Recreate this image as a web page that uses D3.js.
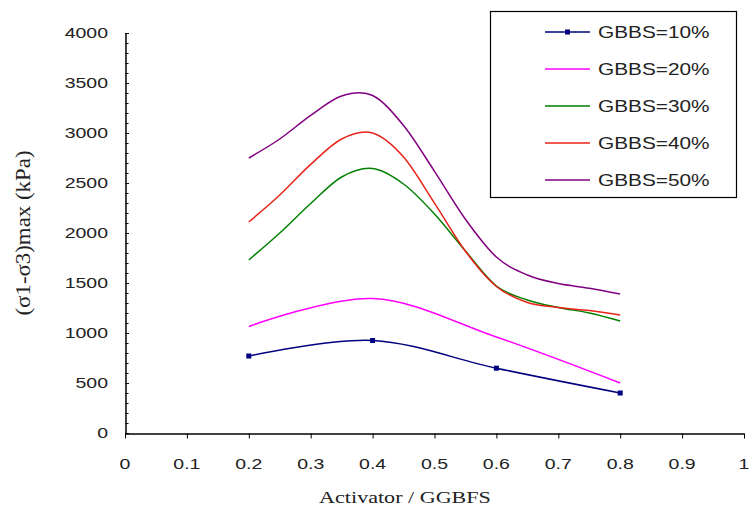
<!DOCTYPE html>
<html>
<head>
<meta charset="utf-8">
<script src="https://cdn.jsdelivr.net/npm/d3@7"></script>
<style>
  body { margin: 0; background: #fff; }
  svg { display: block; }
</style>
</head>
<body>
<div id="chart"></div>
<script>
const WIDTH = 752;
const HEIGHT = 515;
const STRETCH = 1.3; // the source picture is stretched sideways

// series
const seriesNames = ["GBBS=10%", "GBBS=20%", "GBBS=30%", "GBBS=40%", "GBBS=50%"];
const seriesColors = ["#000080", "#ff00ff", "#008000", "#e8231a", "#800080"];

const xCoarse = [0.2, 0.4, 0.6, 0.8];
const xFine = [0.2, 0.25, 0.3, 0.35, 0.4, 0.45, 0.5, 0.55, 0.6, 0.65, 0.7, 0.75, 0.8];

const gbbs10 = [770, 925, 648, 400];
const gbbs20 = [1065, 1345, 960, 500];
const gbbs30 = [1730, 2000, 2295, 2560, 2645, 2490, 2190, 1820, 1470, 1330, 1255, 1200, 1120];
const gbbs40 = [2110, 2380, 2686, 2940, 3000, 2760, 2298, 1817, 1465, 1305, 1255, 1224, 1180];
const gbbs50 = [2750, 2940, 3176, 3370, 3375, 3075, 2617, 2138, 1760, 1580, 1495, 1448, 1390];

const xTicks = [0, 0.1, 0.2, 0.3, 0.4, 0.5, 0.6, 0.7, 0.8, 0.9, 1];
const yTicks = [0, 500, 1000, 1500, 2000, 2500, 3000, 3500, 4000];
const yMinorTicks = d3.range(0, 4001, 100);

const seriesData = [
  { name: seriesNames[0], xs: xCoarse, ys: gbbs10, markers: true },
  { name: seriesNames[1], xs: xCoarse, ys: gbbs20, markers: false },
  { name: seriesNames[2], xs: xFine, ys: gbbs30, markers: false },
  { name: seriesNames[3], xs: xFine, ys: gbbs40, markers: false },
  { name: seriesNames[4], xs: xFine, ys: gbbs50, markers: false },
];

const margin = { left: 125, right: 8, top: 33, bottom: 82 };
const SANS = "Liberation Sans, Arial, sans-serif";
const SERIF = "Liberation Serif, Times New Roman, serif";

const svg = d3
  .select("#chart")
  .append("svg")
  .attr("width", WIDTH)
  .attr("height", HEIGHT);

const x = d3.scaleLinear().domain([0, 1]).range([margin.left, 744]);
const y = d3.scaleLinear().domain([0, 4000]).range([HEIGHT - margin.bottom, margin.top]);

// minor ticks on the y axis (inside)
svg
  .append("g")
  .selectAll("line")
  .data(yMinorTicks)
  .join("line")
  .attr("x1", x(0))
  .attr("x2", x(0) + 3.5)
  .attr("y1", (d) => Math.round(y(d)) + 0.5)
  .attr("y2", (d) => Math.round(y(d)) + 0.5)
  .attr("stroke", "#000");

const yAxis = svg
  .append("g")
  .attr("transform", `translate(${x(0) + 0.5},0)`)
  .call(d3.axisLeft(y).tickValues(yTicks).tickSize(6).tickSizeOuter(0).tickFormat(""));
yAxis.select(".domain").attr("stroke-width", 1.5);
yAxis.selectAll(".tick line").attr("x2", 3.5);

const xAxis = svg
  .append("g")
  .attr("transform", `translate(0,${y(0) + 0.5})`)
  .call(d3.axisBottom(x).tickValues(xTicks).tickSize(5).tickSizeOuter(0).tickFormat(""));
xAxis.select(".domain").attr("stroke-width", 1.5);

// tick labels, stretched like the source
svg
  .append("g")
  .selectAll("text")
  .data(yTicks)
  .join("text")
  .attr("transform", (d) => `translate(108,${y(d)}) scale(${STRETCH},1)`)
  .attr("dy", "0.36em")
  .attr("text-anchor", "end")
  .attr("font-family", SANS)
  .attr("font-size", 15)
  .attr("fill", "#222")
  .text((d) => String(d));

svg
  .append("g")
  .selectAll("text")
  .data(xTicks)
  .join("text")
  .attr("transform", (d) => `translate(${x(d)},464) scale(${STRETCH},1)`)
  .attr("dy", "0.36em")
  .attr("text-anchor", "middle")
  .attr("font-family", SANS)
  .attr("font-size", 15)
  .attr("fill", "#222")
  .text((d) => String(d));

// axis titles
svg
  .append("text")
  .attr("transform", `translate(405,497) scale(${STRETCH},1)`)
  .attr("dy", "0.36em")
  .attr("text-anchor", "middle")
  .attr("font-family", SERIF)
  .attr("font-size", 17)
  .attr("fill", "#222")
  .text("Activator / GGBFS");

svg
  .append("text")
  .attr("transform", `translate(23,${(y(0) + y(4000)) / 2}) rotate(-90)`)
  .attr("dy", "0.36em")
  .attr("text-anchor", "middle")
  .attr("font-family", SERIF)
  .attr("font-size", 20)
  .attr("fill", "#222")
  .attr("textLength", 165)
  .attr("lengthAdjust", "spacingAndGlyphs")
  .text("(σ1-σ3)max (kPa)");

// series lines
const line = d3
  .line()
  .x((d) => x(d[0]))
  .y((d) => y(d[1]))
  .curve(d3.curveCardinal.tension(0));

seriesData.forEach((s, i) => {
  const pts = s.xs.map((v, j) => [v, s.ys[j]]);
  svg
    .append("path")
    .attr("d", line(pts))
    .attr("fill", "none")
    .attr("stroke", seriesColors[i])
    .attr("stroke-width", 1.5);
  if (s.markers) {
    svg
      .append("g")
      .selectAll("rect")
      .data(pts)
      .join("rect")
      .attr("x", (d) => x(d[0]) - 2.5)
      .attr("y", (d) => y(d[1]) - 2.5)
      .attr("width", 5)
      .attr("height", 5)
      .attr("fill", seriesColors[i]);
  }
});

// legend
const legend = svg.append("g");
legend
  .append("rect")
  .attr("x", 490.5)
  .attr("y", 11.5)
  .attr("width", 246)
  .attr("height", 186)
  .attr("fill", "#fff")
  .attr("stroke", "#000")
  .attr("stroke-width", 1.2);

seriesData.forEach((s, i) => {
  const ly = 32 + i * 37;
  legend
    .append("line")
    .attr("x1", 545)
    .attr("x2", 590)
    .attr("y1", ly)
    .attr("y2", ly)
    .attr("stroke", seriesColors[i])
    .attr("stroke-width", 1.5);
  if (s.markers) {
    legend
      .append("rect")
      .attr("x", 567.5 - 2.5)
      .attr("y", ly - 2.5)
      .attr("width", 5)
      .attr("height", 5)
      .attr("fill", seriesColors[i]);
  }
  legend
    .append("text")
    .attr("transform", `translate(598,${ly}) scale(${STRETCH},1)`)
    .attr("dy", "0.36em")
    .attr("font-family", SANS)
    .attr("font-size", 16)
    .attr("fill", "#222")
    .text(s.name);
});
</script>
</body>
</html>
